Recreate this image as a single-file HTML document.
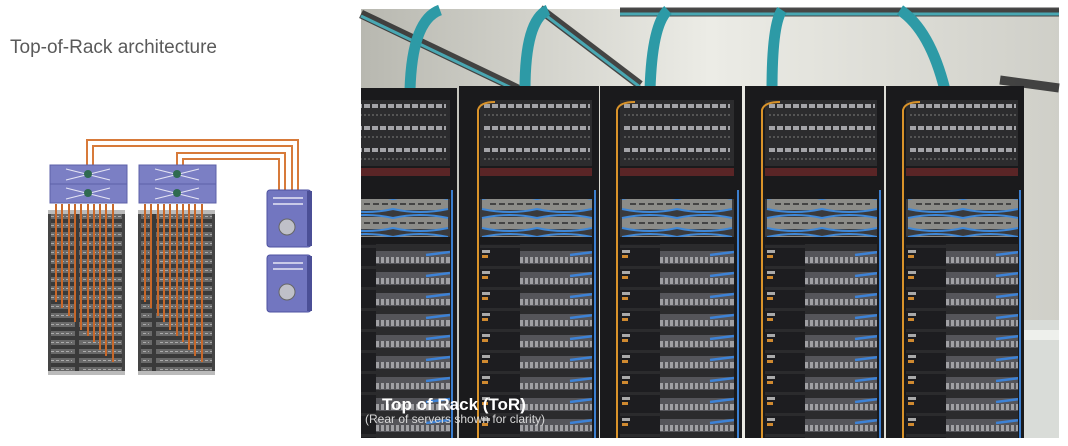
<!DOCTYPE html>
<html><head><meta charset="utf-8"><style>
html,body{margin:0;padding:0;background:#fff;}
body{width:1068px;height:446px;overflow:hidden;position:relative;font-family:"Liberation Sans",sans-serif;}
</style></head><body>
<svg width="1068" height="446" viewBox="0 0 1068 446" xmlns="http://www.w3.org/2000/svg" style="position:absolute;left:0;top:0">
<defs>
  <linearGradient id="wall" x1="0" y1="0" x2="1" y2="0">
    <stop offset="0" stop-color="#b8b8b0"/><stop offset="0.5" stop-color="#ecece6"/><stop offset="1" stop-color="#cfcfc8"/>
  </linearGradient>
  <pattern id="srv" x="0" y="0" width="114" height="21" patternUnits="userSpaceOnUse">
    <rect width="114" height="21" fill="#2b2b2d"/>
    <rect x="0" y="1" width="40" height="18" fill="#1d1d20"/>
    <rect x="2" y="3" width="8" height="3" fill="#aaa"/>
    <rect x="40" y="4" width="74" height="13" fill="#55555a"/>
    <rect x="40" y="10" width="74" height="6" fill="#a0a0a4"/>
    <path d="M44 10v6M49 10v6M54 10v6M59 10v6M64 10v6M69 10v6M74 10v6M79 10v6M84 10v6M89 10v6M94 10v6M99 10v6M104 10v6M109 10v6" stroke="#3a3a3e" stroke-width="1.5"/>
    <path d="M90 8 L114 5" stroke="#3d82d6" stroke-width="2.5"/>
    <rect x="2" y="8" width="6" height="3" fill="#d08a30"/>
  </pattern>
  <pattern id="sw" x="0" y="0" width="114" height="19" patternUnits="userSpaceOnUse">
    <rect width="114" height="19" fill="#3a3a3c"/>
    <rect x="2" y="3" width="110" height="12" fill="#8c8c88"/>
    <path d="M2 4 Q30 -2 57 4 Q84 -2 112 4 M2 14 Q30 20 57 14 Q84 20 112 14" stroke="#3f88d8" stroke-width="2" fill="none"/>
    <path d="M10 9h95" stroke="#444" stroke-width="2" stroke-dasharray="6 3"/>
  </pattern>
  <pattern id="pp" x="0" y="0" width="114" height="22" patternUnits="userSpaceOnUse">
    <rect width="114" height="22" fill="#2c2c2e"/>
    <path d="M4 6h106" stroke="#a4a4a8" stroke-width="4" stroke-dasharray="6 2"/>
    <path d="M4 15h106" stroke="#555" stroke-width="2" stroke-dasharray="2 2"/>
  </pattern>
  <pattern id="lr" x="0" y="212" width="77" height="9" patternUnits="userSpaceOnUse">
    <rect width="77" height="9" fill="#3a3a3a"/>
    <rect x="2" y="2" width="73" height="5" fill="#6a6a6a"/>
    <path d="M6 4.5h66" stroke="#aaa" stroke-width="1" stroke-dasharray="3 2"/>
  </pattern>
  <g id="rc">
    <rect x="0" y="0" width="114" height="66" fill="url(#pp)"/>
    <rect x="0" y="68" width="114" height="8" fill="#9a3030" opacity="0.5"/>
    <rect x="0" y="99" width="114" height="38" fill="url(#sw)"/>
    <rect x="0" y="144" width="114" height="210" fill="url(#srv)"/>
  </g>
</defs>

<text x="10" y="53" font-family="Liberation Sans, sans-serif" font-size="19" fill="#5a5a5a">Top-of-Rack architecture</text>

<g stroke="#d77a3a" stroke-width="2" fill="none">
  <path d="M87 166 V140 H298 V190"/>
  <path d="M93 166 V146 H292 V190"/>
  <path d="M177 166 V153 H285 V190"/>
  <path d="M183 166 V159 H279 V190"/>
</g>
<rect x="48" y="210" width="77" height="165" fill="#444"/>
<rect x="51" y="213" width="71" height="159" fill="url(#lr)"/>
<rect x="48" y="210" width="77" height="4" fill="#bbb"/>
<rect x="48" y="371" width="77" height="4" fill="#bbb"/>
<rect x="138" y="210" width="77" height="165" fill="#444"/>
<rect x="141" y="213" width="71" height="159" fill="url(#lr)"/>
<rect x="138" y="210" width="77" height="4" fill="#bbb"/>
<rect x="138" y="371" width="77" height="4" fill="#bbb"/>
<g stroke="#c8682a" stroke-width="2">
  <path d="M56 204V302M62 204V308M69 204V316M75 204V322M81 204V330M88 204V336M94 204V342M100 204V350M106 204V356M113 204V362"/>
  <path d="M145 204V302M151 204V308M158 204V316M164 204V322M170 204V330M177 204V336M183 204V342M189 204V350M195 204V356M202 204V362"/>
</g>
<g>
  <rect x="50" y="165" width="77" height="19" fill="#7b7fc4" stroke="#5c60a8"/>
  <rect x="50" y="184" width="77" height="19" fill="#7b7fc4" stroke="#5c60a8"/>
  <rect x="139" y="165" width="77" height="19" fill="#7b7fc4" stroke="#5c60a8"/>
  <rect x="139" y="184" width="77" height="19" fill="#7b7fc4" stroke="#5c60a8"/>
  <g stroke="#e6e6f5" stroke-width="1">
    <path d="M66 169 L110 180 M66 180 L110 169 M66 188 L110 199 M66 199 L110 188"/>
    <path d="M155 169 L199 180 M155 180 L199 169 M155 188 L199 199 M155 199 L199 188"/>
  </g>
  <circle cx="88" cy="174" r="4" fill="#2f6a50"/><circle cx="88" cy="193" r="4" fill="#2f6a50"/>
  <circle cx="177" cy="174" r="4" fill="#2f6a50"/><circle cx="177" cy="193" r="4" fill="#2f6a50"/>
</g>
<g>
  <rect x="267" y="190" width="44" height="57" rx="3" fill="#7276c0" stroke="#4e52a0"/>
  <rect x="307" y="191" width="5" height="55" fill="#4b4f96"/>
  <circle cx="287" cy="227" r="8" fill="#bfc0c8" stroke="#666"/>
  <path d="M273 198h30M273 204h30" stroke="#e6e6f5" stroke-width="1.5"/>
  <rect x="267" y="255" width="44" height="57" rx="3" fill="#7276c0" stroke="#4e52a0"/>
  <rect x="307" y="256" width="5" height="55" fill="#4b4f96"/>
  <circle cx="287" cy="292" r="8" fill="#bfc0c8" stroke="#666"/>
  <path d="M273 263h30M273 269h30" stroke="#e6e6f5" stroke-width="1.5"/>
</g>

<!-- Photo -->
<rect x="361" y="9" width="698" height="429" fill="url(#wall)"/>
<rect x="1020" y="320" width="39" height="118" fill="#d9dcd8"/>
<rect x="1020" y="330" width="39" height="10" fill="#eef0ec"/>
<g stroke="#2a2a2a" stroke-width="9" fill="none" opacity="0.85">
  <path d="M361 14 L520 90"/>
  <path d="M540 9 L640 85"/>
  <path d="M620 12 L1059 12"/>
  <path d="M1000 80 L1059 88"/>
</g>
<g stroke="#49a7b2" stroke-width="3" fill="none">
  <path d="M361 16 L520 92"/><path d="M540 11 L640 87"/><path d="M620 14 L1059 14"/>
</g>
<g stroke="#2d9aa6" stroke-width="11" fill="none">
  <path d="M410 90 Q412 20 440 10"/>
  <path d="M525 90 Q525 20 548 10"/>
  <path d="M650 90 Q652 25 668 10"/>
  <path d="M772 90 Q772 25 782 10"/>
  <path d="M945 90 Q930 30 900 10"/>
</g>

<g>
  <rect x="361" y="88" width="96" height="350" fill="#1a1a1c"/>
  <rect x="459" y="86" width="140" height="352" fill="#1a1a1c"/>
  <rect x="600" y="86" width="142" height="352" fill="#1a1a1c"/>
  <rect x="745" y="86" width="139" height="352" fill="#1a1a1c"/>
  <rect x="886" y="86" width="138" height="352" fill="#1a1a1c"/>
  <svg x="361" y="100" width="89" height="338"><use href="#rc" x="-25"/></svg>
  <svg x="480" y="100" width="112" height="338"><use href="#rc"/></svg>
  <svg x="620" y="100" width="115" height="338"><use href="#rc"/></svg>
  <svg x="765" y="100" width="112" height="338"><use href="#rc"/></svg>
  <svg x="906" y="100" width="112" height="338"><use href="#rc"/></svg>
  <g stroke="#d9932a" stroke-width="2" fill="none">
    <path d="M478 438 V110 Q480 102 495 102"/>
    <path d="M617 438 V110 Q619 102 635 102"/>
    <path d="M762 438 V110 Q764 102 780 102"/>
    <path d="M903 438 V110 Q905 102 920 102"/>
  </g>
  <g stroke="#3b7fd0" stroke-width="2">
    <path d="M452 190V438M595 190V438M738 190V438M880 190V438M1020 190V438"/>
  </g>
</g>
<text x="382" y="410" font-family="Liberation Sans, sans-serif" font-size="17" font-weight="bold" fill="#ffffff">Top of Rack (ToR)</text>
<text x="365" y="423" font-family="Liberation Sans, sans-serif" font-size="12" fill="#d8d8d8">(Rear of servers shown for clarity)</text>
</svg>
</body></html>
